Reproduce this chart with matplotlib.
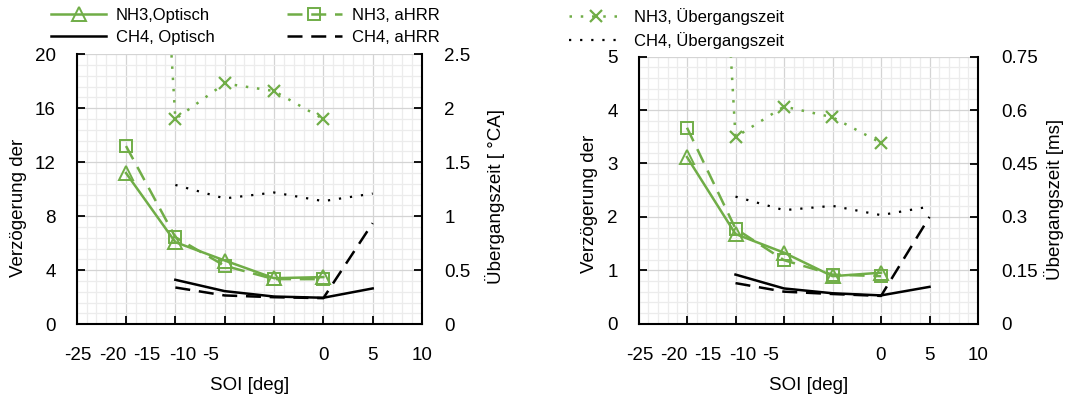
import matplotlib
matplotlib.use("Agg")
import matplotlib.pyplot as plt
from matplotlib.ticker import MultipleLocator, NullFormatter, FuncFormatter

plt.rcParams['font.family'] = ['Liberation Sans', 'DejaVu Sans']

# ---------------- data ----------------
soi_nh3 = [-20, -15, -10, -5, 0]
soi_ch4 = [-15, -10, -5, 0, 5]

# left panel, [°CA]
nh3_opt_ca = [11.2, 6.08, 4.72, 3.41, 3.49]
nh3_ahrr_ca = [13.2, 6.45, 4.33, 3.34, 3.34]
nh3_trans_ca = [9.5, 1.90, 2.23, 2.16, 1.90]
ch4_opt_ca = [3.29, 2.45, 2.05, 1.96, 2.65]
ch4_ahrr_ca = [2.72, 2.13, 2.00, 1.93, 7.49]
ch4_trans_ca = [1.29, 1.165, 1.22, 1.14, 1.21]

# right panel, [ms]
nh3_opt_ms = [3.12, 1.68, 1.33, 0.89, 0.955]
nh3_ahrr_ms = [3.67, 1.78, 1.19, 0.92, 0.89]
nh3_trans_ms = [2.9, 0.524, 0.61, 0.58, 0.508]
ch4_opt_ms = [0.92, 0.66, 0.57, 0.53, 0.69]
ch4_ahrr_ms = [0.76, 0.60, 0.556, 0.52, 2.0]
ch4_trans_ms = [0.357, 0.319, 0.331, 0.305, 0.329]

xtick_labels = ['-25', '-20', '-15', '-10', '-5', '0', '5', '10']
xtick_label_pos = [-24.9, -21.35, -17.85, -14.3, -11.4, 0, 5, 10]

legend_labels = ['NH3,Optisch', 'CH4, Optisch', 'NH3, aHRR', 'CH4, aHRR',
                 'NH3, Übergangszeit', 'CH4, Übergangszeit']

GREEN = '#70AD47'
FS = 13.5
W, H = 1066, 399
fig = plt.figure(figsize=(W / 100, H / 100), dpi=100)


def fx(px):
    return px / W


def fy(py):
    return 1 - py / H


def make_panel(rect, ylim_l, ystep_l, yminor_l, ylim_r, ystep_r, data, pads):
    l, t, r, b = rect
    ax = fig.add_axes([fx(l), fy(b), fx(r) - fx(l), fy(t) - fy(b)])
    ax2 = ax.twinx()
    ax.set_xlim(-25, 10)
    ax.set_ylim(*ylim_l)
    ax2.set_ylim(*ylim_r)
    ax.xaxis.set_major_locator(MultipleLocator(5))
    ax.xaxis.set_minor_locator(MultipleLocator(1))
    ax.xaxis.set_major_formatter(NullFormatter())
    ax.yaxis.set_major_locator(MultipleLocator(ystep_l))
    ax.yaxis.set_minor_locator(MultipleLocator(yminor_l))
    ax2.yaxis.set_major_locator(MultipleLocator(ystep_r))
    ax2.yaxis.set_major_formatter(FuncFormatter(lambda v, p: f'{v:g}'))
    ax.set_axisbelow(True)
    ax.grid(which='minor', color='#ececec', lw=0.9, zorder=0)
    ax.grid(which='major', color='#d4d4d4', lw=0.9, zorder=0)
    ax.tick_params(which='minor', length=0)
    ax2.tick_params(which='minor', length=0)
    ax.tick_params(axis='y', which='major', direction='in', length=5.5, width=1.3,
                   labelsize=FS, pad=pads[0])
    ax.tick_params(axis='x', which='major', direction='in', length=5.5, width=1.3)
    ax2.tick_params(axis='y', which='major', direction='in', length=5.5, width=1.3,
                    labelsize=FS, pad=pads[1])
    for s in ['top', 'right']:
        ax.spines[s].set_visible(False)
    for s in ['top', 'left', 'bottom']:
        ax2.spines[s].set_visible(False)
    for s in ['left', 'bottom']:
        ax.spines[s].set_linewidth(1.5)
    ax2.spines['right'].set_linewidth(1.5)

    nh3_opt, nh3_ahrr, nh3_tr, ch4_opt, ch4_ahrr, ch4_tr = data
    h = {}
    h['NH3,Optisch'], = ax.plot(soi_nh3, nh3_opt, color=GREEN, lw=1.8, marker='^',
                                ms=10, mfc='none', mec=GREEN, mew=1.4, zorder=4)
    h['NH3, aHRR'], = ax.plot(soi_nh3, nh3_ahrr, color=GREEN, lw=1.8, marker='s',
                              ms=8.5, mfc='none', mec=GREEN, mew=1.4,
                              dashes=(6, 3.5), zorder=4)
    h['CH4, Optisch'], = ax.plot(soi_ch4, ch4_opt, color='black', lw=1.8, zorder=3)
    h['CH4, aHRR'], = ax.plot(soi_ch4, ch4_ahrr, color='black', lw=1.8,
                              dashes=(6, 3.5), zorder=3)
    h['NH3, Übergangszeit'], = ax2.plot(soi_nh3, nh3_tr, color=GREEN, lw=1.8,
                                       marker='x', ms=9, mew=1.6,
                                       dashes=(1, 3.5), zorder=4)
    h['CH4, Übergangszeit'], = ax2.plot(soi_ch4, ch4_tr, color='black', lw=1.6,
                                       dashes=(1, 4), zorder=3)

    # x tick labels
    for lbl, xp in zip(xtick_labels, xtick_label_pos):
        ax.annotate(lbl, xy=(xp, 0), xycoords=ax.get_xaxis_transform(),
                    xytext=(0, -(356 - b) * 0.72), textcoords='offset points',
                    ha='center', va='center', fontsize=FS)
    xc = (l + r) / 2
    fig.text(fx(xc), fy(385), 'SOI [deg]', ha='center', va='center', fontsize=FS)
    return ax, ax2, h


ax, ax2, h = make_panel((76.7, 54.3, 422, 324.2), (0, 20), 4, 0.8, (0, 2.5), 0.5,
                        (nh3_opt_ca, nh3_ahrr_ca, nh3_trans_ca, ch4_opt_ca,
                         ch4_ahrr_ca, ch4_trans_ca), (15, 16))
fig.text(fx(19), fy(207.5), 'Verzögerung der', rotation=90, ha='center',
         va='center', fontsize=FS)
fig.text(fx(495), fy(197), 'Übergangszeit [ °CA]', rotation=90, ha='center',
         va='center', fontsize=FS)

bx, bx2, h2 = make_panel((638.5, 56.7, 978, 323.7), (0, 5), 1, 0.2, (0, 0.75), 0.15,
                         (nh3_opt_ms, nh3_ahrr_ms, nh3_trans_ms, ch4_opt_ms,
                          ch4_ahrr_ms, ch4_trans_ms), (15, 17))
fig.text(fx(590), fy(204), 'Verzögerung der', rotation=90, ha='center',
         va='center', fontsize=FS)
fig.text(fx(1054), fy(199), 'Übergangszeit [ms]', rotation=90, ha='center',
         va='center', fontsize=FS)

# legends (three columns)
col_x = [51, 286.6, 568.7]
for i, cx in enumerate(col_x):
    labs = legend_labels[2 * i:2 * i + 2]
    fig.legend([h[k] for k in labs], labs, loc='upper left',
               bbox_to_anchor=(fx(cx), fy(8)), frameon=False,
               fontsize=12, handlelength=3.3, handletextpad=0.6,
               borderpad=0, borderaxespad=0, labelspacing=0.42)

fig.savefig('out.png', dpi=100)
